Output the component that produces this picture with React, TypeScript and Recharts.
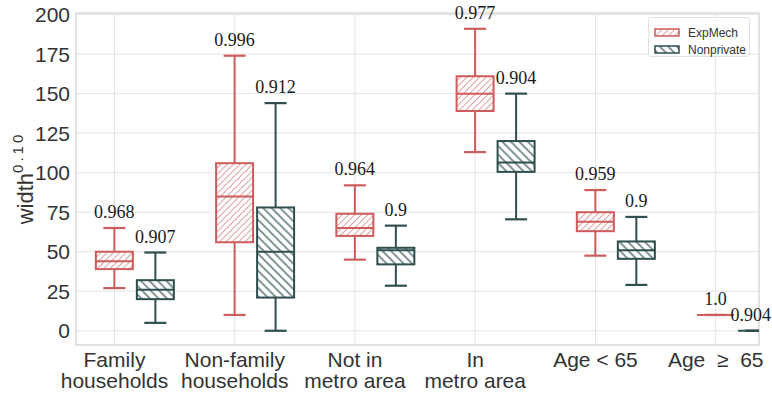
import { Bar, CartesianGrid, ComposedChart, LabelList, Legend, ReferenceArea, XAxis, YAxis } from "recharts";

const categories = [
  "Family\nhouseholds",
  "Non-family\nhouseholds",
  "Not in\nmetro area",
  "In\nmetro area",
  "Age < 65",
  "Age\u00a0 \u2265 \u00a065",
];

// [min, q1, median, q3, max]
const expMechStats = [
  [27, 39, 44, 50, 65],
  [10, 56, 85, 106, 174],
  [45, 60, 65, 74, 92],
  [113, 139, 150, 161, 191],
  [47.5, 63, 69, 75, 89],
  [10, 10, 10, 10, 10],
];
const nonprivateStats = [
  [5, 20, 26, 32, 49.5],
  [0, 21, 50, 78, 144],
  [28.5, 42, 51, 52.5, 66.5],
  [70.5, 100.5, 106.5, 120, 150],
  [29, 45.5, 51, 56.5, 72],
  [0, 0, 0, 0, 0],
];
const expMechLabels = ["0.968", "0.996", "0.964", "0.977", "0.959", "1.0"];
const nonprivateLabels = ["0.907", "0.912", "0.9", "0.904", "0.9", "0.904"];
const yTicks = [0, 25, 50, 75, 100, 125, 150, 175, 200];

const data = categories.map((name, i) => ({
  pos: i,
  name,
  exp: expMechStats[i],
  non: nonprivateStats[i],
  expLabel: expMechLabels[i],
  nonLabel: nonprivateLabels[i],
}));

const W = 772;
const H = 397;
const RIGHT = 13;
const RED = "#cd5c5c";
const GREEN = "#2f4f4f";
const BAR_SIZE = 37;
const BAR_GAP = 4;
const SHIFT = (BAR_SIZE + BAR_GAP) / 2;
const SANS = "'Liberation Sans', Arial, sans-serif";
const SERIF = "'Liberation Serif', 'Times New Roman', serif";

const series = {
  ExpMech: { key: "exp", color: RED, pattern: "hatch-exp", dir: 45, gap: 4.5, lw: 1, op: 0.6 },
  Nonprivate: { key: "non", color: GREEN, pattern: "hatch-non", dir: -45, gap: 6, lw: 1.4, op: 0.85 },
};

function Hatch({ id, s }: { id: string; s: any }) {
  return (
    <pattern id={id} width={s.gap} height={s.gap} patternUnits="userSpaceOnUse" patternTransform={`rotate(${s.dir})`}>
      <line x1={s.gap / 2} y1={0} x2={s.gap / 2} y2={s.gap} stroke={s.color} strokeWidth={s.lw} strokeOpacity={s.op} />
    </pattern>
  );
}

const makeBox = (name: "ExpMech" | "Nonprivate") => (props: any) => {
  const s = series[name];
  const { x, y, width, height, payload } = props;
  const st: number[] = payload[s.key];
  const top = Math.min(y, y + height);
  const bottom = Math.max(y, y + height);
  const span = st[4] - st[0];
  const py = (v: number) => (span === 0 ? top : bottom - ((v - st[0]) / span) * (bottom - top));
  const cx = x + width / 2 + SHIFT;
  const left = cx - BAR_SIZE / 2;
  const cap = 11;
  const clipId = `clip-${s.pattern}`;
  return (
    <g clipPath={`url(#${clipId})`}>
      <defs>
        <Hatch id={s.pattern} s={s} />
        <clipPath id={clipId}>
          <rect x={0} y={0} width={W - RIGHT} height={H} />
        </clipPath>
      </defs>
      <line x1={cx} x2={cx} y1={py(st[4])} y2={py(st[3])} stroke={s.color} strokeWidth={2} />
      <line x1={cx} x2={cx} y1={py(st[1])} y2={py(st[0])} stroke={s.color} strokeWidth={2} />
      <line x1={cx - cap} x2={cx + cap} y1={py(st[4])} y2={py(st[4])} stroke={s.color} strokeWidth={2.2} />
      <line x1={cx - cap} x2={cx + cap} y1={py(st[0])} y2={py(st[0])} stroke={s.color} strokeWidth={2.2} />
      <rect x={left} y={py(st[3])} width={BAR_SIZE} height={py(st[1]) - py(st[3])} fill="#fff" />
      <rect x={left} y={py(st[3])} width={BAR_SIZE} height={py(st[1]) - py(st[3])} fill={`url(#${s.pattern})`} stroke={s.color} strokeWidth={2} />
      <line x1={left} x2={left + BAR_SIZE} y1={py(st[2])} y2={py(st[2])} stroke={s.color} strokeWidth={2} />
    </g>
  );
};

const makeLabel = () => (props: any) => {
  const { x, y, width, height, value } = props;
  const top = Math.min(y, y + height);
  const cx = x + width / 2 + SHIFT;
  const nearEdge = cx + 20 > W - 1;
  return (
    <text
      x={nearEdge ? W - 1 : cx}
      y={top - 10}
      textAnchor={nearEdge ? "end" : "middle"}
      fontFamily={SERIF}
      fontSize={18}
      fill="#1a1a1a"
    >
      {value}
    </text>
  );
};

function CategoryTick({ x, y, payload }: any) {
  const lines = categories[payload.value].split("\n");
  return (
    <text x={x} y={y} textAnchor="middle" fill="#333" fontSize={21} fontFamily={SANS}>
      {lines.map((l, i) => (
        <tspan key={i} x={x} dy={i === 0 ? 22 : 21}>
          {l}
        </tspan>
      ))}
    </text>
  );
}

function LegendBox({ payload }: any) {
  return (
    <div
      style={{
        width: 102,
        height: 40,
        boxSizing: "border-box",
        border: "1px solid #e2e2e2",
        borderRadius: 3,
        background: "rgba(255,255,255,0.85)",
        padding: "6px 0 0 5px",
      }}
    >
      {(payload || []).map((entry: any) => {
        const s = series[entry.value as "ExpMech" | "Nonprivate"];
        const id = `legend-${s.pattern}`;
        return (
          <div key={entry.value} style={{ display: "flex", alignItems: "center", height: 17 }}>
            <svg width={26} height={9} style={{ marginRight: 8 }}>
              <defs>
                <Hatch id={id} s={s} />
              </defs>
              <rect x={1} y={1} width={24} height={7} fill="#fff" />
              <rect x={1} y={1} width={24} height={7} fill={`url(#${id})`} stroke={s.color} strokeWidth={1.5} />
            </svg>
            <span style={{ fontFamily: SANS, fontSize: 12, color: "#333" }}>{entry.value}</span>
          </div>
        );
      })}
    </div>
  );
}

export default function App() {
  return (
    <div style={{ position: "absolute", left: 0, top: 0 }}>
      <ComposedChart
        width={W}
        height={H}
        data={data}
        margin={{ top: 13, right: RIGHT, left: 0, bottom: 0 }}
        barSize={BAR_SIZE}
        barGap={BAR_GAP}
      >
        <CartesianGrid stroke="#e4e4e4" strokeWidth={1} />
        <ReferenceArea x1={-0.32} x2={5.36} y1={-9} y2={201} fill="none" stroke="#dedede" strokeWidth={1.5} />
        <XAxis
          type="number"
          dataKey="pos"
          domain={[-0.32, 5.36]}
          allowDataOverflow
          ticks={[0, 1, 2, 3, 4, 5]}
          interval={0}
          tick={<CategoryTick />}
          tickLine={false}
          axisLine={false}
          tickSize={0}
          tickMargin={0}
          height={52}
        />
        <YAxis
          type="number"
          domain={[-9, 201]}
          allowDataOverflow
          ticks={yTicks}
          interval={0}
          width={76}
          tickLine={false}
          axisLine={false}
          tickSize={4}
          tickMargin={2}
          tick={{ fill: "#333", fontSize: 21, fontFamily: SANS }}
          label={{
            content: () => (
              <text transform="rotate(-90, 33, 178)" x={33} y={178} textAnchor="middle" fill="#333" fontFamily={SANS} fontSize={22}>
                width
                <tspan dy={-10} fontSize={15} letterSpacing={3}>
                  0.10
                </tspan>
              </text>
            ),
          }}
        />
        <Legend
          layout="horizontal"
          verticalAlign="middle"
          align="center"
          content={<LegendBox />}
          wrapperStyle={{ top: 17, left: 648, width: 102, height: 40 }}
        />
        <Bar
          name="ExpMech"
          dataKey={(d: any) => [d.exp[0], d.exp[4]]}
          fill={RED}
          shape={makeBox("ExpMech")}
          isAnimationActive={false}
        >
          <LabelList dataKey="expLabel" content={makeLabel()} />
        </Bar>
        <Bar
          name="Nonprivate"
          dataKey={(d: any) => [d.non[0], d.non[4]]}
          fill={GREEN}
          shape={makeBox("Nonprivate")}
          isAnimationActive={false}
        >
          <LabelList dataKey="nonLabel" content={makeLabel()} />
        </Bar>
      </ComposedChart>
    </div>
  );
}
